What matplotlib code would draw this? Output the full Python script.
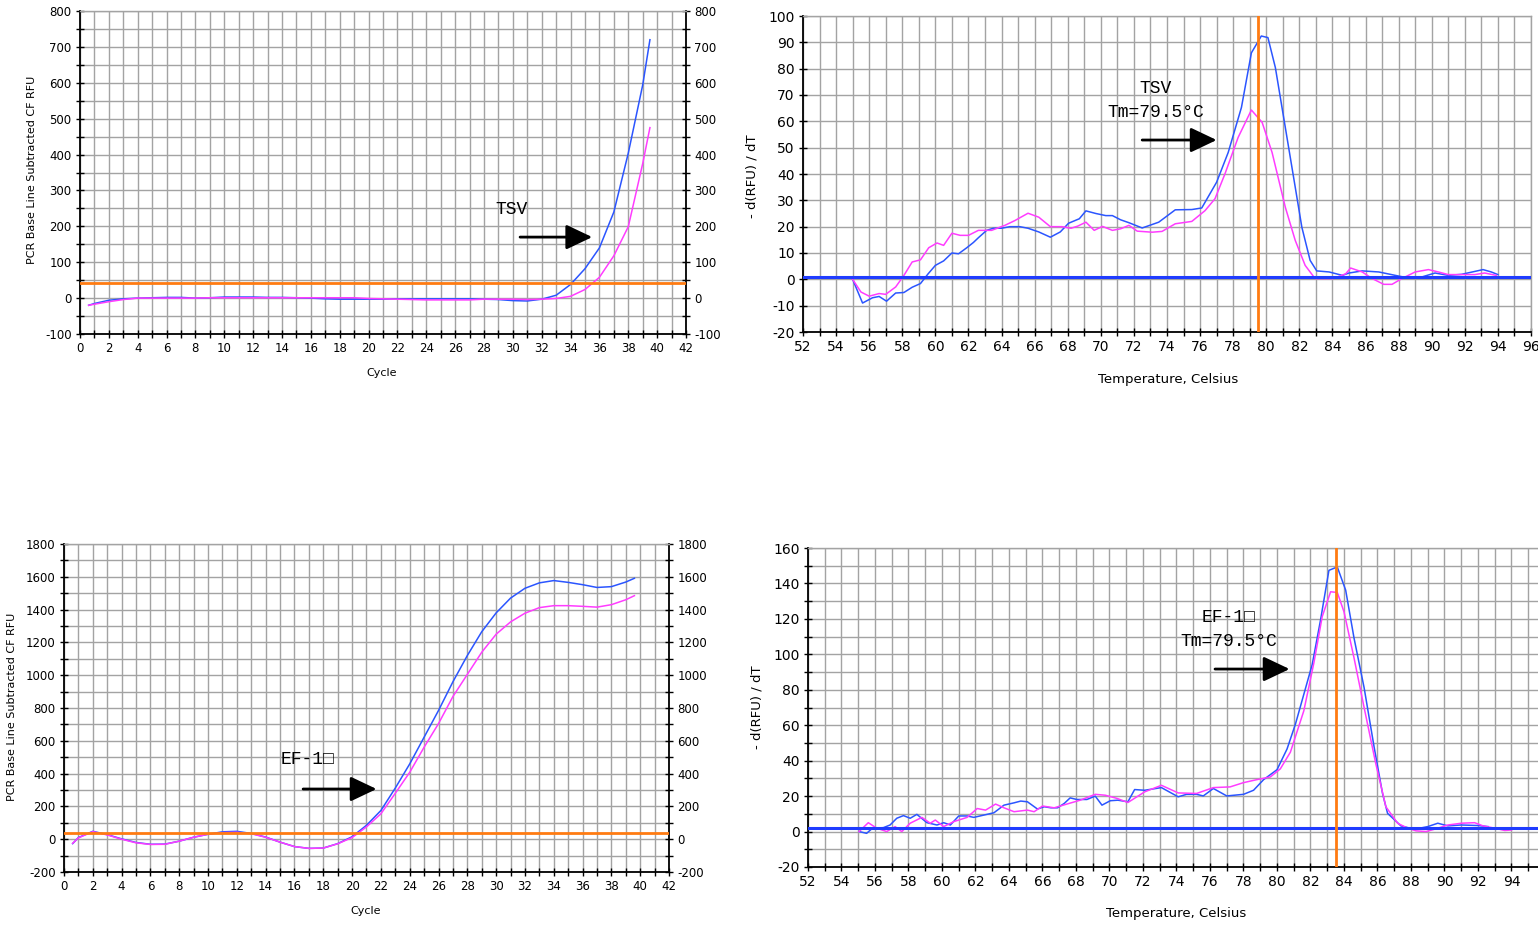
import matplotlib
matplotlib.use("Agg")
import matplotlib.pyplot as plt
from matplotlib.ticker import MultipleLocator, FixedLocator

plt.rcParams["axes.unicode_minus"] = False

# ---------------- data ----------------
# TSV amplification (cycle vs baseline-subtracted RFU)
tsv_cycle = [0.6, 1, 2, 3, 4, 5, 6, 7, 8, 9, 10, 11, 12, 13, 14, 15, 16, 17, 18, 19, 20,
             21, 22, 23, 24, 25, 26, 27, 28, 29, 30, 31, 32, 33, 34, 35, 36, 37, 38, 39, 39.5]
tsv_amp_blue = [-20, -15, -6, -2, 0, 1, 2, 2, 0, 1, 3, 3, 3, 2, 2, 1, 0, -2, -3, -3, -3,
                -3, -2, -2, -2, -2, -2, -2, -3, -4, -7, -8, -3, 8, 38, 82, 140, 240, 404, 594, 720]
tsv_amp_pink = [-20, -17, -10, -4, 0, 0, 0, 0, 0, 1, 1, 1, 1, 1, 1, 1, 1, 1, 1, 1, -1,
                -2, -3, -4, -5, -5, -5, -5, -3, -3, -3, -4, -3, -1, 5, 24, 58, 118, 199, 375, 475]
tsv_threshold = 43

# TSV melt curve (temperature vs -dRFU/dT)
tsv_melt_t_blue = [55.0, 55.6, 56.2, 56.6, 57.05, 57.6, 58.1, 58.6, 59.1, 59.55, 60.0, 60.5,
                   61.0, 61.4, 61.9, 62.3, 62.6, 63.1, 63.5, 64.0, 64.5, 65.1, 65.6, 66.25,
                   66.95, 67.55, 68.05, 68.7, 69.1, 69.7, 70.3, 70.7, 71.2, 71.7, 72.5, 73.5,
                   74.5, 75.5, 76.1, 77.0, 77.7, 78.5, 79.1, 79.7, 80.1, 80.55, 81.15, 81.75,
                   82.15, 82.65, 83.05, 83.8, 84.6, 85.0, 85.8, 86.8, 87.8, 88.6, 89.4, 90.2,
                   91.0, 91.8, 92.6, 93.1, 93.6, 94.0]
tsv_melt_v_blue = [0, -9, -7, -6.5, -8.3, -5.2, -5, -3, -1.6, 2, 5.3, 7, 10, 9.7, 12, 14,
                   15.8, 18.6, 19.4, 19.4, 20, 20, 19.4, 18, 16, 18, 21.3, 23, 26, 25, 24.2,
                   24.2, 22.6, 21.5, 19.5, 21.7, 26.4, 26.5, 27.1, 36.9, 48.2, 65.3, 86, 92.4,
                   91.8, 80.4, 57.7, 35, 19.8, 7.2, 3.2, 2.8, 1.5, 2.4, 3.2, 2.8, 1.5, 0.5,
                   0.9, 2.4, 1.5, 1.9, 3, 3.7, 2.8, 1.8]
tsv_melt_t_pink = [55.0, 55.5, 56.0, 56.6, 57.0, 57.6, 58.1, 58.6, 59.1, 59.6, 60.1, 60.5,
                   61.0, 61.5, 62.0, 62.6, 63.4, 64.2, 64.8, 65.6, 66.25, 66.95, 67.65, 68.2,
                   68.6, 69.1, 69.6, 70.1, 70.7, 71.2, 71.7, 72.2, 73.1, 73.7, 74.5, 75.5,
                   76.3, 76.9, 77.5, 78.3, 79.1, 79.75, 80.35, 81.15, 81.75, 82.35, 82.95,
                   84.05, 84.8, 85.1, 85.8, 86.4, 87.1, 87.6, 88.2, 89.0, 89.8, 90.4, 91.0,
                   91.8, 92.6, 93.2, 93.9]
tsv_melt_v_pink = [0, -4.8, -6.4, -5.4, -5.7, -2.9, 1.5, 6.6, 7.4, 12, 13.8, 12.9, 17.5,
                   16.7, 16.7, 18.6, 18.6, 20.5, 22.3, 25.1, 23.6, 20, 20, 19.4, 20.2, 21.7,
                   18.6, 20.1, 18.6, 19.2, 20.5, 18.3, 17.9, 18.2, 21.1, 22, 26.1, 30.6, 40,
                   53.9, 64.3, 59.6, 48.2, 27.4, 14.8, 5.3, 0.3, 0.3, 2.1, 4.3, 2.8, 0.3,
                   -1.9, -1.9, 0.3, 2.8, 3.7, 2.8, 1.8, 1.8, 1.8, 2.4, 1.5]
tsv_melt_baseline = 1
tsv_tm = 79.5

# EF-1 amplification
ef_cycle = [0.6, 1, 2, 3, 4, 5, 6, 7, 8, 9, 10, 11, 12, 13, 14, 15, 16, 17, 18, 19, 20,
            21, 22, 23, 24, 25, 26, 27, 28, 29, 30, 31, 32, 33, 34, 35, 36, 37, 38, 39, 39.6]
ef_amp_blue = [-27, 10, 48, 28, 2, -20, -31, -30, -12, 12, 30, 45, 48, 35, 13, -18, -45,
               -56, -54, -27, 15, 85, 175, 312, 459, 622, 785, 960, 1120, 1265, 1380, 1470,
               1530, 1563, 1577, 1566, 1552, 1535, 1540, 1568, 1591]
ef_amp_pink = [-25, 8, 46, 26, 0, -22, -32, -31, -12, 12, 30, 40, 42, 33, 12, -18, -45,
               -56, -54, -28, 10, 75, 155, 280, 408, 561, 705, 870, 1005, 1140, 1250, 1325,
               1378, 1412, 1424, 1424, 1420, 1415, 1430, 1460, 1485]
ef_threshold = 38

# EF-1 melt curve
ef_melt_t_blue = [55.05, 55.5, 55.85, 56.5, 56.9, 57.3, 57.7, 58.1, 58.5, 59.1, 59.7, 60.1,
                  60.5, 61.0, 61.5, 61.9, 62.5, 63.1, 63.7, 64.3, 64.7, 65.1, 65.7, 66.1,
                  66.5, 66.9, 67.3, 67.65, 68.05, 68.65, 69.15, 69.55, 70.05, 70.5, 71.1,
                  71.5, 72.1, 73.1, 74.1, 74.6, 75.2, 75.6, 76.2, 77.0, 78.0, 78.6, 79.2,
                  80.0, 80.6, 81.1, 81.6, 82.1, 82.6, 83.1, 83.6, 84.1, 84.6, 85.2, 85.8,
                  86.3, 86.6, 87.4, 88.2, 89.0, 89.6, 90.2, 91.0, 92.0, 92.6]
ef_melt_v_blue = [0, -1, 1.9, 2.2, 3.7, 7.5, 9, 7.5, 9.7, 5, 3.7, 5, 3.7, 8.8, 8.8, 8, 9.3,
                  10.6, 14.9, 16.2, 17.2, 16.8, 12.7, 14, 13.4, 13.4, 15.9, 19, 18.1, 18.1,
                  20, 14.9, 17.4, 17.7, 16.8, 23.7, 23.3, 24.8, 19.6, 21, 21, 20.1, 24.3,
                  20.1, 21, 23.3, 29.3, 34.9, 46.6, 60.6, 77.4, 94.2, 119.4, 147.4, 149.3,
                  136.2, 109.1, 81.2, 47.6, 21.5, 10.3, 3.2, 1.3, 2.8, 4.7, 3.2, 3.7, 3.4, 2.8]
ef_melt_t_pink = [55.05, 55.6, 56.1, 56.7, 57.2, 57.6, 58.1, 58.8, 59.3, 59.6, 60.1, 60.7,
                  61.5, 62.1, 62.6, 63.2, 63.7, 64.3, 65.1, 65.5, 66.0, 66.7, 67.45, 68.25,
                  69.15, 69.75, 70.45, 71.1, 72.1, 73.1, 74.1, 75.2, 76.2, 77.2, 78.0, 78.8,
                  79.6, 80.2, 80.8, 81.6, 82.2, 82.7, 83.2, 83.6, 84.0, 84.6, 85.2, 85.9,
                  86.5, 87.2, 87.8, 88.3, 88.9, 89.4, 90.2, 91.0, 91.8, 92.3, 93.0, 93.6, 94.0]
ef_melt_v_pink = [0, 5, 1.9, 0, 2.8, 0, 4.7, 8, 4.7, 6.5, 2.8, 5.6, 8, 13, 12.1, 15.5, 13.4,
                  11.2, 12.1, 11.2, 14.4, 13.4, 15.5, 17.7, 21, 20.5, 18.7, 16.4, 22.4, 26.1,
                  21.8, 21.5, 24.8, 25.2, 27.6, 29.3, 30.8, 35.4, 44.8, 68.1, 95.1, 121.3,
                  135.3, 134.9, 124, 97.9, 70, 38.2, 14, 4.7, 1.9, 0.4, 0, 1.3, 3.7, 4.7, 5,
                  3.2, 1.9, 0.6, 0.9]
ef_melt_baseline = 2
ef_tm_line = 83.5

# ---------------- styling ----------------
BLUE = "#2b55ff"
PINK = "#ff3cff"
BASE_BLUE = "#1f3cff"
ORANGE = "#ff7b12"
GRID = "#a3a3a3"
MONO = ["Liberation Mono", "DejaVu Sans Mono"]

W, H = 1538, 926
fig = plt.figure(figsize=(W / 100, H / 100), dpi=100)
fig.patch.set_facecolor("white")


def px_axes(left, top, right, bottom):
    return fig.add_axes([left / W, 1 - bottom / H, (right - left) / W, (bottom - top) / H])


def style(ax, xmaj, xmin, ymaj, ymin, labelsize, right_axis, xmax_label=None):
    if xmax_label is None:
        ax.xaxis.set_major_locator(MultipleLocator(xmaj))
    else:
        lo = ax.get_xlim()[0]
        ticks = []
        v = lo
        while v <= xmax_label + 1e-9:
            ticks.append(v)
            v += xmaj
        ax.xaxis.set_major_locator(FixedLocator(ticks))
    ax.xaxis.set_minor_locator(MultipleLocator(xmin))
    ax.yaxis.set_major_locator(MultipleLocator(ymaj))
    ax.yaxis.set_minor_locator(MultipleLocator(ymin))
    ax.grid(True, which="both", color=GRID, lw=1.0, zorder=0)
    ax.set_axisbelow(True)
    for s in ("left", "bottom"):
        ax.spines[s].set_color("black")
        ax.spines[s].set_linewidth(1.3)
    ax.spines["top"].set_color(GRID)
    ax.spines["top"].set_linewidth(1.0)
    if right_axis:
        ax.spines["right"].set_color("black")
        ax.spines["right"].set_linewidth(1.3)
    else:
        ax.spines["right"].set_color(GRID)
        ax.spines["right"].set_linewidth(1.0)
    ax.tick_params(which="both", direction="inout", length=6, width=1.0, color="black",
                   labelsize=labelsize, left=True, bottom=True, top=False,
                   right=right_axis, labelright=right_axis, pad=3)


def arrow(ax, x0, x1, y):
    ax.annotate("", xy=(x1, y), xytext=(x0, y),
                arrowprops=dict(arrowstyle="-|>,head_length=0.8,head_width=0.38",
                                mutation_scale=20, lw=2.0, color="black",
                                shrinkA=0, shrinkB=0),
                zorder=6)


# ---- top-left: TSV amplification ----
ax1 = px_axes(80, 11, 686, 334)
ax1.plot(tsv_cycle, tsv_amp_blue, color=BLUE, lw=1.1, zorder=3)
ax1.plot(tsv_cycle, tsv_amp_pink, color=PINK, lw=1.1, zorder=3)
ax1.axhline(tsv_threshold, color=ORANGE, lw=2.0, zorder=4)
ax1.set_xlim(0, 42)
ax1.set_ylim(-100, 800)
style(ax1, 2, 1, 100, 50, 8.5, True)
ax1.text(29.9, 248, "TSV", family=MONO, fontsize=13, ha="center", va="center", zorder=6)
arrow(ax1, 30.5, 35.5, 170)
fig.text(32 / W, 1 - 170 / H, "PCR Base Line Subtracted CF RFU", rotation=90,
         ha="center", va="center", fontsize=8)
fig.text(382 / W, 1 - 373 / H, "Cycle", ha="center", va="center", fontsize=8)

# ---- top-right: TSV melt ----
ax2 = px_axes(803, 16, 1531, 332)
ax2.plot(tsv_melt_t_blue, tsv_melt_v_blue, color=BLUE, lw=1.1, zorder=3)
ax2.plot(tsv_melt_t_pink, tsv_melt_v_pink, color=PINK, lw=1.1, zorder=3)
ax2.axhline(tsv_melt_baseline, color=BASE_BLUE, lw=2.2, zorder=4)
ax2.axvline(tsv_tm, color=ORANGE, lw=2.0, zorder=5)
ax2.set_xlim(52, 96)
ax2.set_ylim(-20, 100)
style(ax2, 2, 1, 10, 10, 10, False)
ax2.text(73.3, 72.3, "TSV", family=MONO, fontsize=13, ha="center", va="center", zorder=6)
ax2.text(73.3, 63.5, "Tm=79.5°C", family=MONO, fontsize=13, ha="center", va="center", zorder=6)
arrow(ax2, 72.5, 77.0, 52.9)
fig.text(752 / W, 1 - 176 / H, "- d(RFU) / dT", rotation=90, ha="center", va="center",
         fontsize=9.5)
fig.text(1168 / W, 1 - 379 / H, "Temperature, Celsius", ha="center", va="center",
         fontsize=9.5)

# ---- bottom-left: EF-1 amplification ----
ax3 = px_axes(64, 544, 669, 872)
ax3.plot(ef_cycle, ef_amp_blue, color=BLUE, lw=1.1, zorder=3)
ax3.plot(ef_cycle, ef_amp_pink, color=PINK, lw=1.1, zorder=3)
ax3.axhline(ef_threshold, color=ORANGE, lw=2.0, zorder=4)
ax3.set_xlim(0, 42)
ax3.set_ylim(-200, 1800)
style(ax3, 2, 1, 200, 100, 8.5, True)
ax3.text(16.9, 483, "EF-1\u25a1", family=MONO, fontsize=13, ha="center", va="center", zorder=6)
arrow(ax3, 16.6, 21.7, 306)
fig.text(12 / W, 1 - 707 / H, "PCR Base Line Subtracted CF RFU", rotation=90,
         ha="center", va="center", fontsize=8)
fig.text(366 / W, 1 - 911 / H, "Cycle", ha="center", va="center", fontsize=8)

# ---- bottom-right: EF-1 melt ----
ax4 = px_axes(808, 548, 1545, 867)
ax4.plot(ef_melt_t_blue, ef_melt_v_blue, color=BLUE, lw=1.1, zorder=3)
ax4.plot(ef_melt_t_pink, ef_melt_v_pink, color=PINK, lw=1.1, zorder=3)
ax4.axhline(ef_melt_baseline, color=BASE_BLUE, lw=2.2, zorder=4)
ax4.axvline(ef_tm_line, color=ORANGE, lw=2.0, zorder=5)
ax4.set_xlim(52, 96)
ax4.set_ylim(-20, 160)
style(ax4, 2, 1, 20, 10, 10, False, xmax_label=94)
ax4.text(77.1, 121, "EF-1\u25a1", family=MONO, fontsize=13, ha="center", va="center", zorder=6)
ax4.text(77.1, 107.5, "Tm=79.5°C", family=MONO, fontsize=13, ha="center", va="center", zorder=6)
arrow(ax4, 76.3, 80.75, 91.7)
fig.text(757 / W, 1 - 707 / H, "- d(RFU) / dT", rotation=90, ha="center", va="center",
         fontsize=9.5)
fig.text(1176 / W, 1 - 914 / H, "Temperature, Celsius", ha="center", va="center",
         fontsize=9.5)

fig.savefig("out.png", dpi=100)
